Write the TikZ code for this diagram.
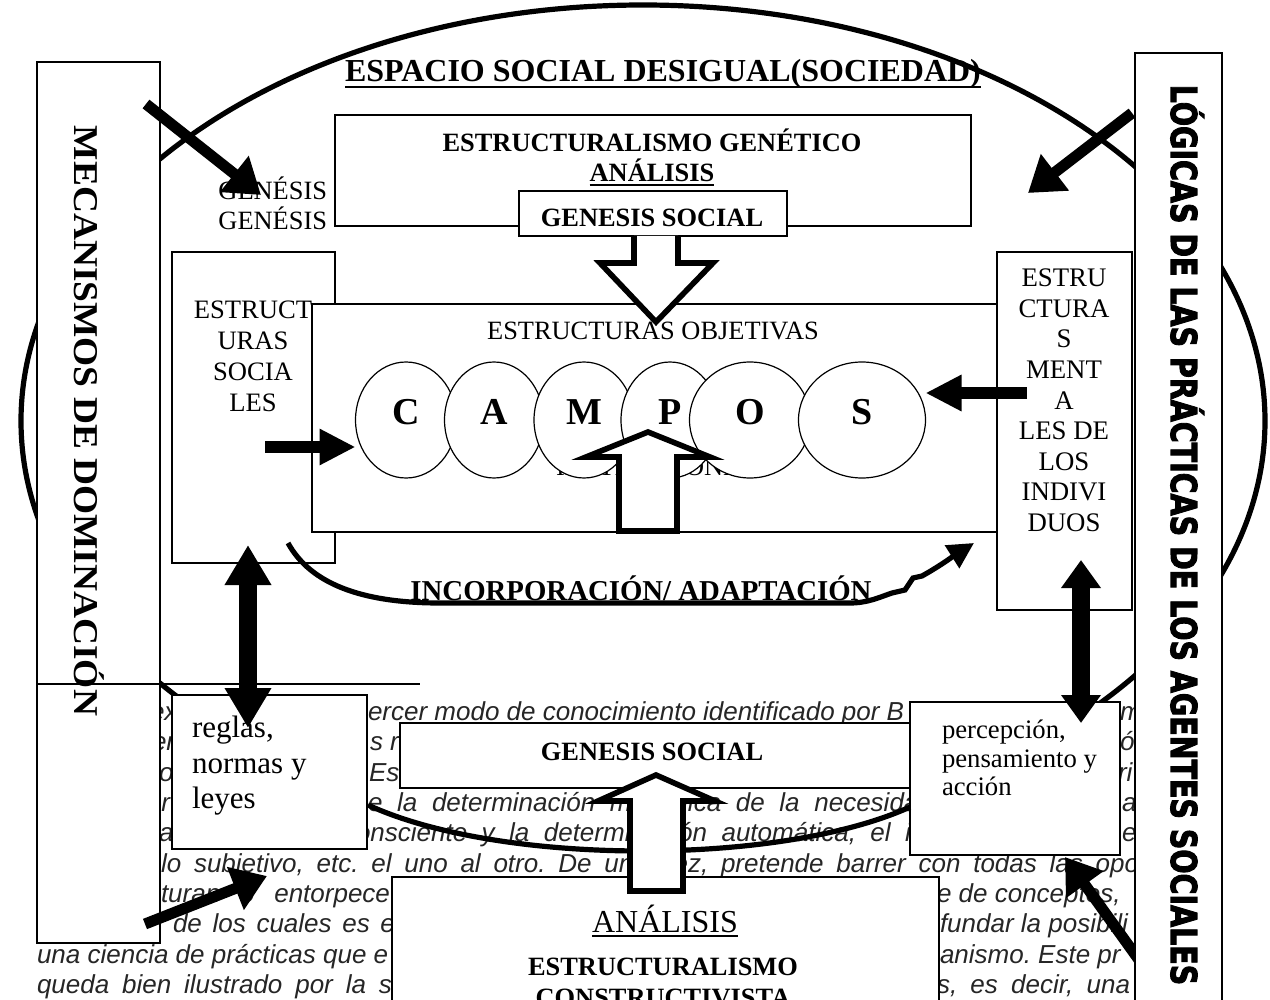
\documentclass[tikz,border=0pt]{standalone}
\usepackage{fontspec}
\setmainfont{Liberation Serif}
\newfontfamily\notefont{Liberation Sans}
\newfontfamily\heavyfont[BoldFeatures={FakeBold=3}]{DejaVu Sans}
\usetikzlibrary{arrows.meta, fit, shapes.geometric}

\newcommand{\spread}[2]{\makebox[#1][s]{#2}}

\begin{document}
\begin{tikzpicture}[x=0.5pt, y=-0.5pt,
    every node/.style={inner sep=0pt, outer sep=0pt},
    frame/.style={draw, fill=white, line width=0.7pt},
    campo/.style={ellipse, draw, fill=white, line width=0.6pt, minimum height=58pt,
                  font=\fontsize{19}{19}\selectfont\bfseries},
    note/.style={anchor=base west, text=black!85, font=\notefont\itshape\fontsize{13}{15}\selectfont\frenchspacing},
    head/.style={anchor=base, font=\fontsize{13.2}{15}\selectfont\bfseries},
    plain/.style={anchor=base, font=\fontsize{13.2}{15}\selectfont},
    fat/.style={line width=2.6pt},
    hollow/.style={line width=2.8pt, fill=white, line join=miter},
    blackArr/.style={line width=5.5pt, -{Triangle[length=17pt, width=22pt]}},
    sideArr/.style={line width=6pt, -{Triangle[length=18pt, width=17pt]}},
    twoWay/.style={line width=9pt, {Triangle[length=20pt, width=22pt]}-{Triangle[length=20pt, width=22pt]}},
    twoWaySmall/.style={line width=9pt, {Triangle[length=14pt, width=19pt]}-{Triangle[length=14pt, width=19pt]}}
]
\useasboundingbox (0,0) rectangle (1270,1000);
\clip (0,0) rectangle (1270,1000);

% the social space
\node[ellipse, draw, line width=2.6pt, minimum width=622pt, minimum height=416pt] (espacio) at (643,421) {};
\node[anchor=base, font=\fontsize{16}{16}\selectfont\bfseries] (title) at (663,82) {ESPACIO SOCIAL DESIGUAL(SOCIEDAD)};
\draw[line width=1.2pt] ([yshift=-2.6pt]title.base west) -- ([yshift=-2.6pt]title.base east);

% genetic structuralism
\node[frame, fit={(335,115) (971,226)}] (genBox) {};
\node[head] (genTitle) at (652,152) {ESTRUCTURALISMO GENÉTICO};
\node[head] (genAnal) at (652,182) {ANÁLISIS};
\draw[line width=1pt] ([yshift=-1.6pt]genAnal.base west) -- ([yshift=-1.6pt]genAnal.base east);
\node[frame, fit={(519,191) (787,236)}] (gsTop) {};
\node[head] (gsTopText) at (652,227) {GENESIS SOCIAL};
\node[plain, anchor=base east] (genesisA) at (327,200) {GENÉSIS};
\node[plain, anchor=base east] (genesisB) at (327,230) {GENÉSIS};

% structures
\node[frame, fit={(172,252) (335,563)}] (socBox) {};
\node[anchor=north, align=center, font=\fontsize{13.3}{15.5}\selectfont] (socText) at (253,300.5) {ESTRUCT\\URAS\\SOCIA\\LES};
\node[frame, fit={(312,304) (1000,532)}] (objBox) {};
\node[plain] (objText) at (653,340) {ESTRUCTURAS OBJETIVAS};
\node[plain, anchor=base west] (instText) at (556,475) {INSTITUCIONES};
\node[frame, fit={(997,252) (1132,610)}] (mentBox) {};
\node[anchor=north, align=center, font=\fontsize{13.4}{15.3}\selectfont] (mentText) at (1064,269) {ESTRU\\CTURA\\S\\MENT\\A\\LES DE\\LOS\\INDIVI\\DUOS};

% campos
\node[campo, minimum width=50.5pt] (campoC) at (406,420) {\raisebox{8pt}{C}};
\node[campo, minimum width=49.5pt] (campoA) at (494,420) {\raisebox{8pt}{A}};
\node[campo, minimum width=50pt]   (campoM) at (584,420) {\raisebox{8pt}{M}};
\node[campo, minimum width=49pt]   (campoP) at (670,420) {\raisebox{8pt}{P}};
\node[campo, minimum width=60.5pt] (campoO) at (750,420) {\raisebox{8pt}{O}};
\node[campo, minimum width=63.5pt] (campoS) at (862,420) {\raisebox{8pt}{S}};

% block arrows
\filldraw[hollow] (634,236) -- (634,263) -- (600,263) -- (656,322) -- (713,263) -- (678,263) -- (678,236);
\filldraw[hollow] (619,531) -- (619,457) -- (586,457) -- (648,432) -- (710,457) -- (677,457) -- (677,531) -- cycle;

\coordinate (socIn) at (265,447);
\coordinate (mentOut) at (1027,393);
\draw[sideArr] (socIn) -- (campoC.west |- socIn);
\draw[sideArr] (mentOut) -- (campoS.east |- mentOut);

% incorporation
\coordinate (incStart) at (288,543);
\coordinate (incEnd) at (974,543);
\node[anchor=base, font=\fontsize{14.4}{15}\selectfont\bfseries] (incText) at (641,600) {INCORPORACIÓN/ ADAPTACIÓN};
\draw[fat, -{Triangle[length=13pt, width=13pt]}] (incStart) .. controls (310,583) and (360,603) .. (440,603)
  -- (850,603) .. controls (868,603) and (880,597) .. (892,593) -- (905,590) -- (913,578) -- (922,576)
  .. controls (940,566) and (955,555) .. (incEnd);

% text underneath
\fill[white] (0,702) rectangle (1270,1000);
\node[note] (l1a) at (150,720) {ex};
\node[note] (l1b) at (368,720) {ercer modo de conocimiento identificado por B};
\node[note] (l1c) at (1120,720) {m};
\node[note] (l2a) at (152,750) {er};
\node[note] (l2b) at (370,750) {s r};
\node[note] (l2c) at (1120,750) {ó};
\node[note] (l3a) at (159,781) {o};
\node[note] (l3b) at (369,781) {Es};
\node[note] (l3c) at (1118,781) {ri};
\node[note] (l4a) at (147,811) {or};
\node[note] (l4b) at (368,811) {\spread{282.5pt}{e la determinación mecánica de la necesidad}};
\node[note] (l4c) at (1122,811) {a};
\node[note] (l5a) at (159,841) {a};
\node[note] (l5b) at (343,841) {\spread{284pt}{consciente y la determinación automática, el i}};
\node[note] (l5c) at (1122,841) {e};
\node[note] (l6) at (161,872) {\spread{498.5pt}{lo subjetivo, etc. el uno al otro. De una vez, pretende barrer con todas las oposi}};
\node[note] (l7a) at (161,902) {\spread{114.5pt}{turan o entorpece}};
\node[note] (l7b) at (937,902) {e de conceptos,};
\node[note] (l8a) at (173,932) {\spread{111pt}{de los cuales es e}};
\node[note] (l8b) at (940,932) {fundar la posibili};
\node[note] (l9a) at (37,963) {una ciencia de prácticas que e};
\node[note] (l9b) at (940,963) {anismo. Este pr};
\node[note] (l10a) at (37,993) {\spread{177.5pt}{queda bien ilustrado por la s}};
\node[note] (l10b) at (937,993) {\spread{96.5pt}{s, es decir, una}};

% lower boxes
\node[frame, fit={(172,695) (367,849)}] (reglasBox) {};
\node[anchor=north west, align=left, font=\fontsize{15.5}{17.75}\selectfont] (reglasText) at (192,716) {reglas,\\normas y\\leyes};
\node[frame, fit={(400,723) (915,788)}] (gsLow) {};
\node[head] (gsLowText) at (652,760) {GENESIS SOCIAL};
\node[frame, fit={(910,702) (1120,855)}] (percBox) {};
\node[anchor=north west, align=left, font=\fontsize{13.35}{14.25}\selectfont] (percText) at (942,720) {percepción,\\pensamiento y\\acción};
\node[frame, fit={(392,877) (939,1010)}] (anBox) {};
\node[anchor=base, font=\fontsize{16}{16}\selectfont] (anText) at (665,932) {ANÁLISIS};
\draw[line width=0.8pt] ([yshift=-2pt]anText.base west) -- ([yshift=-2pt]anText.base east);
\node[head] (constA) at (663,975) {ESTRUCTURALISMO};
\node[head] (constB) at (663,1006) {CONSTRUCTIVISTA};

\coordinate (rpStart) at (368,805);
\coordinate (rpEnd) at (910,807);
\draw[fat] (rpStart) .. controls (500,866) and (780,866) .. (rpEnd);
\filldraw[hollow] (630,891) -- (630,801) -- (598,801) -- (656,775) -- (715,801) -- (683,801) -- (683,891) -- cycle;

% side arrows under the side bars
\coordinate (logTop) at (1132,113);
\coordinate (genOut) at (1028,193);
\coordinate (logFoot) at (1152,978);
\coordinate (percIn) at (1065,857);
\draw[blackArr] (logTop) -- (genOut);
\draw[blackArr] (logFoot) -- (percIn);

% side bars
\node[frame, fit={(37,62) (160,943)}] (mecBox) {};
\node[rotate=-90, anchor=base, font=\fontsize{17.4}{17.4}\selectfont\bfseries] (mecText) at (75,421) {\scalebox{1.075}[1]{MECANISMOS DE DOMINACIÓN}};
\node[frame, fit={(1135,53) (1222,1010)}] (logBox) {};
\node[rotate=-90, anchor=base, font=\heavyfont\bfseries\fontsize{17.8}{17.8}\selectfont] (logText) at (1171,535) {\scalebox{0.8}[1]{LÓGICAS DE LAS PRÁCTICAS DE LOS AGENTES SOCIALES}};
\draw[line width=0.6pt] (37,684) -- (420,684);

% arrows over the bars
\coordinate (mecTop) at (146,104);
\coordinate (genIn) at (261,195);
\coordinate (mecFoot) at (145,924);
\coordinate (reglasIn) at (267,876);
\draw[blackArr] (mecTop) -- (genIn);
\draw[blackArr] (mecFoot) -- (reglasIn);
\coordinate (socFoot) at (248,545);
\coordinate (reglasTop) at (248,728);
\draw[twoWay] (socFoot) -- (reglasTop);
\coordinate (mentFoot) at (1081,560);
\coordinate (percTop) at (1081,723);
\draw[twoWaySmall] (mentFoot) -- (percTop);
\end{tikzpicture}
\end{document}
